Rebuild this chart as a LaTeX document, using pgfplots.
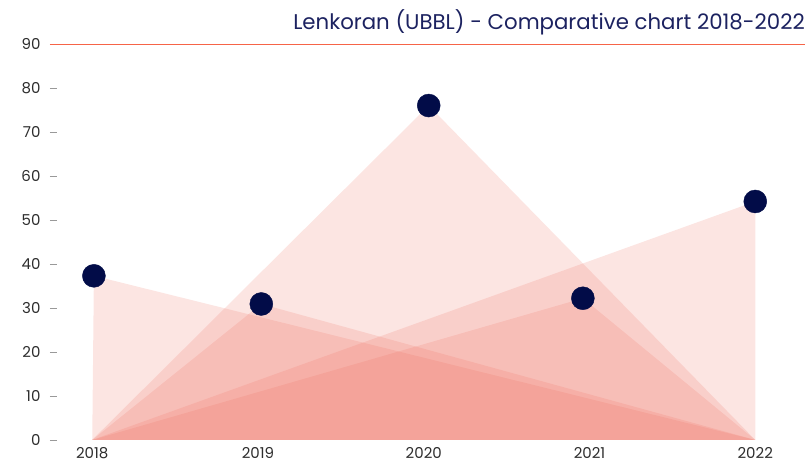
\documentclass[border=0pt]{standalone}
\usepackage{pgfplots}
\pgfplotsset{compat=1.18}
\usepackage{fontspec}
\setmainfont{Poppins}
\definecolor{areac}{RGB}{238,110,95}
\definecolor{navy}{RGB}{2,12,72}
\definecolor{titlec}{RGB}{28,34,96}
\definecolor{ruleorange}{RGB}{246,100,72}
\definecolor{tickc}{RGB}{45,45,45}
\begin{document}
\begin{tikzpicture}
\begin{axis}[
  scale only axis,
  width=755pt, height=396pt,
  xmin=2017.745, xmax=2022.3,
  ymin=0, ymax=90,
  clip=false,
  axis line style={draw=none},
  xtick={2018,2019,2020,2021,2022},
  ytick={0,10,...,90},
  xtick style={draw=none},
  ytick style={draw=black!40, line width=0.6pt},
  tick align=inside,
  major tick length=7pt,
  ytick pos=left, xtick pos=bottom,
  /pgf/number format/1000 sep={},
  /pgf/number format/assume math mode=true,
  tick label style={font=\fontsize{15}{17}\selectfont, text=tickc},
  yticklabel style={xshift=-6pt},
  xticklabel style={yshift=-4pt},
]
\addplot[fill=areac, fill opacity=0.18, draw=none] coordinates {(2018,0) (2018.01,37.3) (2022,0)} -- cycle;
\addplot[fill=areac, fill opacity=0.18, draw=none] coordinates {(2018,0) (2019.02,30.9) (2022,0)} -- cycle;
\addplot[fill=areac, fill opacity=0.18, draw=none] coordinates {(2018,0) (2020.03,76) (2022,0)} -- cycle;
\addplot[fill=areac, fill opacity=0.18, draw=none] coordinates {(2018,0) (2020.96,32.2) (2022,0)} -- cycle;
\addplot[fill=areac, fill opacity=0.18, draw=none] coordinates {(2018,0) (2022,54.2) (2022,0)} -- cycle;
\addplot[draw=ruleorange, line width=0.8pt, opacity=1, mark=none] coordinates {(2017.745,90) (2022.3,90)};
\addplot[only marks, mark=*, mark size=11.5pt, mark options={fill=navy, draw=navy}] coordinates {(2018.01,37.3) (2019.02,30.9) (2020.03,76) (2020.96,32.2) (2022,54.2)};
\node[anchor=base east, text=titlec, font=\fontsize{21.3}{24}\selectfont, inner sep=0pt] at (rel axis cs:1,1) [yshift=14pt] {Lenkoran (UBBL) - Comparative chart 2018-2022};
\path (rel axis cs:-0.0662,-0.068) rectangle (rel axis cs:1.004,1.111);
\end{axis}
\end{tikzpicture}
\end{document}
